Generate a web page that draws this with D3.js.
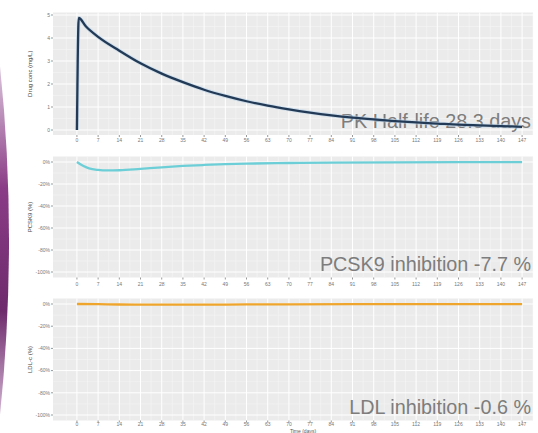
<!DOCTYPE html>
<html>
<head>
<meta charset="utf-8">
<script src="https://cdn.jsdelivr.net/npm/d3@7"></script>
<style>
  body { margin: 0; background: #ffffff; }
  svg { display: block; }
  text { font-family: "Liberation Sans", Arial, sans-serif; }
</style>
</head>
<body>
<svg id="chart" width="538" height="433"></svg>
<script>
// values
var xTickLabels = [0, 7, 14, 21, 28, 35, 42, 49, 56, 63, 70, 77, 84, 91, 98, 105, 112, 119, 126, 133, 140, 147];

var pkDays = [0, 0.6, 3, 7, 14, 21, 28, 35, 42, 49, 56, 63, 70, 77, 84, 91, 98, 105, 112, 119, 126, 133, 140, 147];
var pkConc = [0, 4.87, 4.5, 4.05, 3.45, 2.9, 2.45, 2.08, 1.75, 1.48, 1.25, 1.06, 0.9, 0.76, 0.64, 0.54, 0.46, 0.39, 0.33, 0.28, 0.23, 0.2, 0.17, 0.14];
var pkTicks = [0, 1, 2, 3, 4, 5];

var pcskDays = [0, 2, 4, 7, 10, 14, 21, 28, 35, 42, 49, 56, 70, 84, 105, 126, 147];
var pcskPct = [0, -3.5, -5.8, -7.2, -7.7, -7.5, -6.2, -4.8, -3.6, -2.7, -2.0, -1.5, -0.9, -0.5, -0.3, -0.15, -0.1];

var ldlDays = [0, 7, 14, 28, 42, 56, 70, 91, 119, 147];
var ldlPct = [0, -0.2, -0.45, -0.6, -0.55, -0.4, -0.3, -0.2, -0.1, -0.05];

var pctTicks = [0, -20, -40, -60, -80, -100];
var pctTickLabels = ["0%", "-20%", "-40%", "-60%", "-80%", "-100%"];

var panelTitles = ["Drug conc (mg/L)", "PCSK9 (%)", "LDL-c (%)"];
var notes = ["PK Half-life 28.3 days", "PCSK9 inhibition -7.7 %", "LDL inhibition -0.6 %"];
var colors = ["#233a56", "#6ccfd7", "#efa52c"];

var svg = d3.select("#chart");

// purple slide edge on the left
var defs = svg.append("defs");
var grad = defs.append("linearGradient").attr("id", "edge")
    .attr("x1", 0).attr("y1", 0).attr("x2", 0).attr("y2", 1);
grad.append("stop").attr("offset", "0%").attr("stop-color", "#dcc6dc");
grad.append("stop").attr("offset", "35%").attr("stop-color", "#8a3c86");
grad.append("stop").attr("offset", "70%").attr("stop-color", "#6e2a6c");
grad.append("stop").attr("offset", "100%").attr("stop-color", "#d2b4d2");
svg.append("path")
    .attr("d", "M0,66 Q18,240 0,415 Z")
    .attr("fill", "url(#edge)");

var x = d3.scaleLinear().domain([-7.9, 150.6]).range([53, 533]);

var panels = [
    {top: 12.5, bottom: 135, y: d3.scaleLinear().domain([0, 5]).range([130, 15]),
     ticks: pkTicks, labels: pkTicks.map(String), minor: [0.5, 1.5, 2.5, 3.5, 4.5],
     xs: pkDays, ys: pkConc, labelY: 139.5, noteY: 128},
    {top: 156.5, bottom: 277.5, y: d3.scaleLinear().domain([0, -100]).range([162, 272]),
     ticks: pctTicks, labels: pctTickLabels, minor: [-10, -30, -50, -70, -90],
     xs: pcskDays, ys: pcskPct, labelY: 284, noteY: 271},
    {top: 298.5, bottom: 420.5, y: d3.scaleLinear().domain([0, -100]).range([304, 415]),
     ticks: pctTicks, labels: pctTickLabels, minor: [-10, -30, -50, -70, -90],
     xs: ldlDays, ys: ldlPct, labelY: 423.5, noteY: 414}
];

var minorX = xTickLabels.map(function (d) { return d - 3.5; }).concat([150.5]);

panels.forEach(function (p, i) {
    var g = svg.append("g");
    g.append("rect")
        .attr("x", 53).attr("y", p.top)
        .attr("width", 480).attr("height", p.bottom - p.top)
        .attr("fill", "#ebebeb");

    // minor grid
    g.selectAll(".mx").data(minorX).enter().append("line")
        .attr("x1", function (d) { return x(d); }).attr("x2", function (d) { return x(d); })
        .attr("y1", p.top).attr("y2", p.bottom)
        .attr("stroke", "#f6f6f6").attr("stroke-width", 0.5);
    g.selectAll(".my").data(p.minor).enter().append("line")
        .attr("x1", 53).attr("x2", 533)
        .attr("y1", function (d) { return p.y(d); }).attr("y2", function (d) { return p.y(d); })
        .attr("stroke", "#f6f6f6").attr("stroke-width", 0.5);
    // major grid
    g.selectAll(".gx").data(xTickLabels).enter().append("line")
        .attr("x1", function (d) { return x(d); }).attr("x2", function (d) { return x(d); })
        .attr("y1", p.top).attr("y2", p.bottom)
        .attr("stroke", "#ffffff").attr("stroke-width", 1);
    g.selectAll(".gy").data(p.ticks).enter().append("line")
        .attr("x1", 53).attr("x2", 533)
        .attr("y1", function (d) { return p.y(d); }).attr("y2", function (d) { return p.y(d); })
        .attr("stroke", "#ffffff").attr("stroke-width", 1);

    // y ticks and labels
    g.selectAll(".ty").data(p.ticks).enter().append("line")
        .attr("x1", 51).attr("x2", 53)
        .attr("y1", function (d) { return p.y(d); }).attr("y2", function (d) { return p.y(d); })
        .attr("stroke", "#999");
    g.selectAll(".ly").data(p.ticks).enter().append("text")
        .attr("x", 50).attr("y", function (d) { return p.y(d) + 1.8; })
        .attr("text-anchor", "end").attr("font-size", 5).attr("fill", "#777")
        .text(function (d, k) { return p.labels[k]; });

    // x ticks and labels
    g.selectAll(".tx").data(xTickLabels).enter().append("line")
        .attr("x1", function (d) { return x(d); }).attr("x2", function (d) { return x(d); })
        .attr("y1", p.bottom).attr("y2", p.bottom + 2)
        .attr("stroke", "#999");
    g.selectAll(".lx").data(xTickLabels).enter().append("text")
        .attr("x", function (d) { return x(d); }).attr("y", p.labelY + 2)
        .attr("text-anchor", "middle").attr("font-size", 5).attr("fill", "#777")
        .text(function (d) { return d; });

    // axis title
    g.append("text")
        .attr("transform", "translate(32," + ((p.top + p.bottom) / 2) + ") rotate(-90)")
        .attr("text-anchor", "middle").attr("font-size", 6).attr("fill", "#444")
        .text(panelTitles[i]);

    // annotation
    g.append("text")
        .attr("x", 531).attr("y", p.noteY)
        .attr("text-anchor", "end").attr("font-size", 19.8).attr("fill", "#7d7d7d")
        .text(notes[i]);

    // series line
    var pts = p.xs.map(function (d, k) { return [d, p.ys[k]]; });
    var line = d3.line()
        .x(function (d) { return x(d[0]); })
        .y(function (d) { return p.y(d[1]); })
        .curve(d3.curveMonotoneX);
    if (i === 0) {
        g.append("path").attr("d", line(pts)).attr("fill", "none")
            .attr("stroke", "#b9d3ea").attr("stroke-width", 4).attr("stroke-opacity", 0.6);
    }
    g.append("path").attr("d", line(pts)).attr("fill", "none")
        .attr("stroke", colors[i]).attr("stroke-width", 2.3)
        .attr("stroke-linejoin", "round");
});

svg.append("text")
    .attr("x", 303).attr("y", 432.8)
    .attr("text-anchor", "middle").attr("font-size", 5).attr("fill", "#555")
    .text("Time (days)");
</script>
</body>
</html>
